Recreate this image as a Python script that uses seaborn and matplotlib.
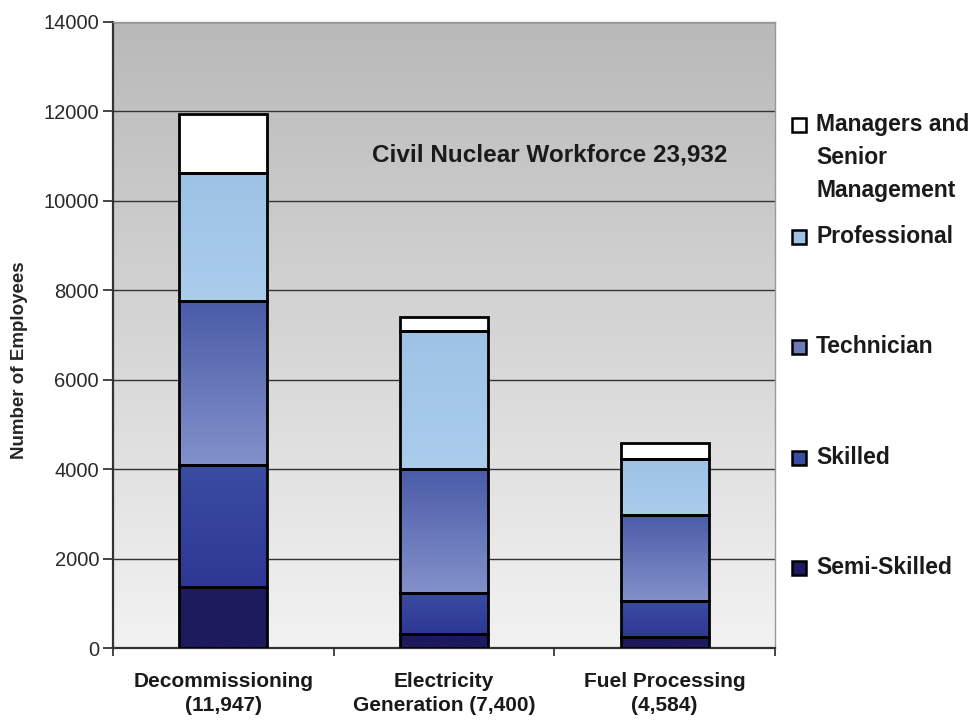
import numpy as np
import pandas as pd
import matplotlib
matplotlib.use("Agg")
import matplotlib.pyplot as plt
from matplotlib.colors import LinearSegmentedColormap
from matplotlib.patches import Rectangle
import seaborn as sns

# data (employees per sector, by grade)
sectors = ["Decommissioning", "Electricity Generation", "Fuel Processing"]
sector_labels = ["Decommissioning\n(11,947)", "Electricity\nGeneration (7,400)", "Fuel Processing\n(4,584)"]
grades = ["Semi-Skilled", "Skilled", "Technician", "Professional", "Managers and\nSenior\nManagement"]
semi_skilled = [1370, 320, 240]
skilled = [2730, 920, 800]
technician = [3650, 2760, 1930]
professional = [2870, 3100, 1250]
managers = [1327, 300, 364]
y_ticks = [0, 2000, 4000, 6000, 8000, 10000, 12000, 14000]
annotation = "Civil Nuclear Workforce 23,932"

layers = [semi_skilled, skilled, technician, professional, managers]
# top / bottom colours of each segment's vertical gradient
top_cols = ["#1d1a5e", "#3a4ca2", "#4a5ca8", "#9ec2e5", "#ffffff"]
bot_cols = ["#1d1a5e", "#2e3894", "#8391ca", "#aacdec", "#ffffff"]

sns.set_style("white")
plt.rcParams["font.family"] = ["Liberation Sans", "DejaVu Sans"]

fig = plt.figure(figsize=(9.73, 7.23), dpi=100)
ax = fig.add_axes([113 / 973, 1 - 648 / 723, 662 / 973, 626 / 723])

# gray gradient background of the plot area
bg = np.linspace(0, 1, 256).reshape(-1, 1)
bg_cmap = LinearSegmentedColormap.from_list("bg", ["#f2f2f2", "#b9b9b9"])
ax.imshow(bg, cmap=bg_cmap, extent=[0, 1, 0, 1], transform=ax.transAxes,
          aspect="auto", origin="lower", zorder=0)

bottom = np.zeros(len(sectors))
for i, vals in enumerate(layers):
    df = pd.DataFrame({"sector": sectors, "count": vals})
    sns.barplot(data=df, x="sector", y="count", bottom=bottom, width=0.4,
                color=top_cols[i], edgecolor="black", linewidth=2.0,
                errorbar=None, ax=ax, zorder=3)
    cmap = LinearSegmentedColormap.from_list("g%d" % i, [bot_cols[i], top_cols[i]])
    for p in ax.containers[-1]:
        x0, y0 = p.get_x(), p.get_y()
        w, h = p.get_width(), p.get_height()
        ax.imshow(bg, cmap=cmap, extent=[x0, x0 + w, y0, y0 + h],
                  aspect="auto", origin="lower", zorder=2.5)
        p.set_facecolor("none")
    bottom = bottom + np.array(vals)

ax.set_xlim(-0.5, 2.5)
ax.set_ylim(0, 14000)
ax.set_yticks(y_ticks)
ax.set_yticklabels([str(v) for v in y_ticks], fontsize=14.5, color="#2a2a2a")
ax.yaxis.grid(True, color="#333333", linewidth=1.0, zorder=1)
ax.set_axisbelow(True)
ax.tick_params(axis="y", direction="out", length=7, width=1.2, pad=3, left=True)

ax.set_xticks([0, 1, 2])
ax.set_xticklabels(sector_labels, fontsize=15, fontweight="bold", color="#1a1a1a",
                   linespacing=1.35)
ax.set_xticks([-0.5, 0.5, 1.5, 2.5], minor=True)
ax.tick_params(axis="x", which="major", length=0, pad=17)
ax.tick_params(axis="x", which="minor", direction="out", length=6, width=1.2, bottom=True)
ax.set_xlabel("")
ax.set_ylabel("Number of Employees", fontsize=13.5, fontweight="bold", labelpad=12)
ax.yaxis.set_label_coords(-0.128, 0.46)

for side in ["left", "bottom"]:
    ax.spines[side].set_color("#333333")
    ax.spines[side].set_linewidth(1.6)
for side in ["top", "right"]:
    ax.spines[side].set_color("#999999")
    ax.spines[side].set_linewidth(1.0)

ax.text(1.477, 11026, annotation, fontsize=17.5, fontweight="bold",
        ha="center", va="center", color="#1a1a1a", zorder=4)

# legend on the right, drawn entry by entry (handle on the first line)
leg_y = [568, 458, 347, 237, 125]
sq = 14
for i, lab in enumerate(grades):
    yc = leg_y[i]
    fig.add_artist(Rectangle((792 / 973, 1 - (yc + sq / 2) / 723), sq / 973, sq / 723,
                             transform=fig.transFigure,
                             facecolor=top_cols[i] if i != 2 else "#6a7aba",
                             edgecolor="black", linewidth=1.8))
    fig.text(816 / 973, 1 - (yc - 12) / 723, lab, fontsize=16.5, fontweight="bold",
             ha="left", va="top", color="#1a1a1a", linespacing=1.55)

fig.savefig("out.png", dpi=100)
